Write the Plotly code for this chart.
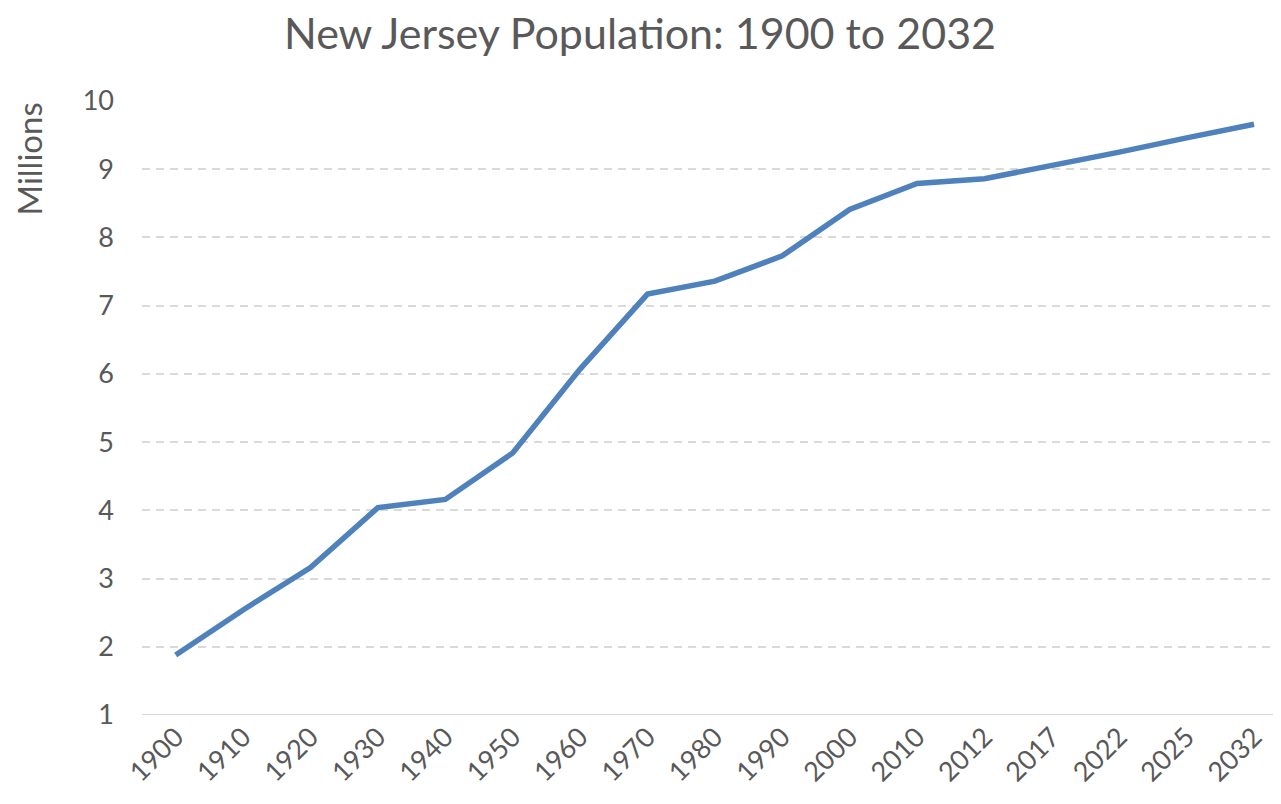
import plotly.graph_objects as go

years = ["1900", "1910", "1920", "1930", "1940", "1950", "1960", "1970", "1980",
         "1990", "2000", "2010", "2012", "2017", "2022", "2025", "2032"]
population_millions = [1.88, 2.54, 3.16, 4.04, 4.16, 4.84, 6.07, 7.17, 7.36,
                       7.73, 8.41, 8.79, 8.86, 9.05, 9.25, 9.46, 9.66]
y_ticks = [1, 2, 3, 4, 5, 6, 7, 8, 9, 10]

FONT = "Lato, Open Sans, sans-serif"
GRAY = "#595959"

W, H = 1273, 788
L, T = 134, 93
PLOT_H = 614

fig = go.Figure()
fig.add_trace(go.Scatter(
    x=list(range(len(years))), y=population_millions, mode="lines",
    line=dict(color="#4F81BD", width=5.5),
    hoverinfo="skip", showlegend=False,
))

fig.update_layout(
    width=W, height=H,
    paper_bgcolor="white", plot_bgcolor="white",
    margin=dict(l=L, r=0, t=T, b=H - T - PLOT_H, autoexpand=False),
    title=dict(text="New Jersey Population: 1900 to 2032", x=(640 - 8) / W,
               xanchor="center", xref="container", y=1 - 11 / H,
               yanchor="top", yref="container", automargin=False,
               pad=dict(t=0, b=0),
               font=dict(family=FONT, size=43, color=GRAY)),
    xaxis=dict(
        range=[-0.5, 16.4], tickmode="array", tickvals=list(range(len(years))),
        ticktext=years, tickangle=-45, showgrid=False, zeroline=False,
        showline=False, ticks="", automargin=False,
        tickfont=dict(family=FONT, size=27, color=GRAY),
    ),
    yaxis=dict(
        range=[1, 10], tickmode="array", tickvals=y_ticks,
        showgrid=True, gridcolor="#d9d9d9", griddash="8px,6px", gridwidth=1.5,
        zeroline=False, showline=False, ticks="", automargin=False,
        ticklabelstandoff=27,
        tickfont=dict(family=FONT, size=27, color=GRAY),
    ),
    annotations=[dict(text="Millions", xref="paper", yref="paper",
                      x=-114 / (W - L), y=1.0, xanchor="center", yanchor="top",
                      textangle=-90, showarrow=False,
                      font=dict(family=FONT, size=33, color=GRAY))],
    shapes=[dict(type="line", xref="paper", yref="y", x0=0, x1=1, y0=1, y1=1,
                 line=dict(color="#d9d9d9", width=2))],
)

fig.write_html("out.html")
